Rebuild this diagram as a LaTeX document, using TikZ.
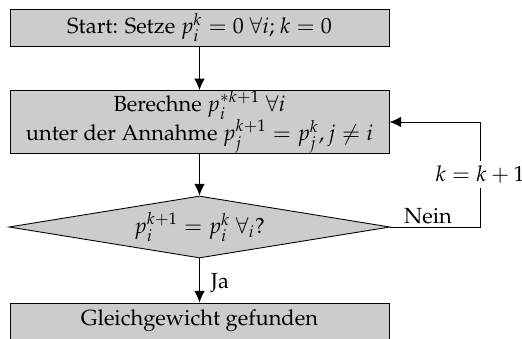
\documentclass[tikz,border=0pt]{standalone}
\usepackage[T1]{fontenc}
\usepackage{mathpazo}
\usetikzlibrary{shapes.geometric,arrows.meta}
\begin{document}
\begin{tikzpicture}[x=0.457pt,y=-0.457pt,
  box/.style={draw, fill=black!20, inner sep=0pt, minimum width=379*0.457pt, align=center},
  dec/.style={draw, fill=black!20, diamond, aspect=6.15, inner sep=0pt, minimum width=381*0.457pt, minimum height=62*0.457pt},
  arr/.style={-{Latex[length=5.3pt,width=4.8pt]}, line width=0.45pt},
  lbl/.style={inner sep=1pt}]
\useasboundingbox (0,0) rectangle (522,339);
\node[box, minimum height=37*0.457pt] (start) at (199.5,27.5) {Start: Setze $p_i^k = 0\ \forall i$; $k = 0$};
\node[box, minimum height=60*0.457pt] (calc) at (199.5,122) {Berechne $p_i^{*k+1}\ \forall i$\\[-1pt] unter der Annahme $p_j^{k+1} = p_j^k, j \neq i$};
\node[dec] (check) at (199.5,227) {$p_i^{k+1} = p_i^k\ \forall_i$?};
\node[box, minimum height=36*0.457pt] (end) at (199.5,321) {Gleichgewicht gefunden};
\coordinate (c1) at (480,227);
\coordinate (c2) at (480,122);
\draw[arr] (start) -- (calc);
\draw[arr] (calc) -- (check);
\draw[arr] (check) -- node[right, lbl, xshift=4pt, yshift=-1pt] (ja) {Ja} (end);
\draw[arr] (check.east) -- node[pos=0.42, above, lbl] (nein) {Nein} (c1) -- node[fill=white, inner sep=2pt] (kk) {$k = k+1$} (c2) -- (calc.east);
\end{tikzpicture}
\end{document}
